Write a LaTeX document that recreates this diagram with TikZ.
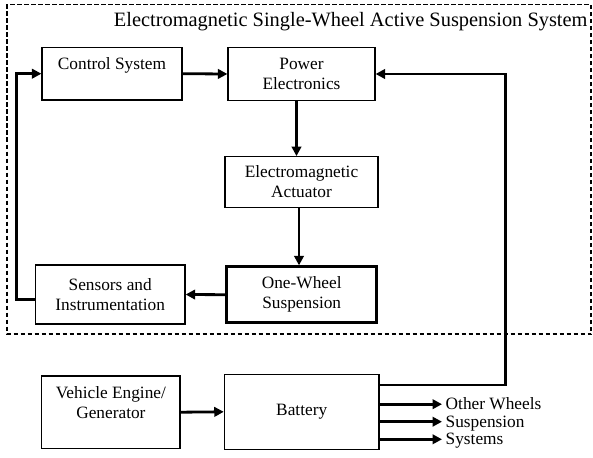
\documentclass[tikz,border=0pt]{standalone}
\usepackage{fontspec}
\setmainfont{Liberation Serif}
\usetikzlibrary{arrows.meta}

\tikzset{
  blk/.style={draw, line width=1.2pt, inner sep=0pt, align=center,
    font=\fontsize{17.3}{20}\selectfont},
  thickblk/.style={blk, line width=2.7pt},
  conn/.style={line width=2.8pt, -{Triangle[length=9.5pt,width=9.5pt]}},
  frame/.style={draw, line width=1.8pt, dash pattern=on 4.5pt off 2.5pt},
}

\begin{document}
\begin{tikzpicture}[x=1pt,y=-1pt]
\useasboundingbox (0,0) rectangle (593,457);

% dashed enclosure of the single-wheel suspension
\draw[frame] (7.3,4.5) rectangle (591.3,334.3);
\node[font=\fontsize{20.4}{24}\selectfont] (title) at (350.7,21.5)
  {Electromagnetic Single-Wheel Active Suspension System};

% blocks
\node[blk, minimum width=140pt, minimum height=52.7pt] (ctrl) at (112,73.7)
  {Control System\\\mbox{}};
\node[blk, minimum width=147pt, minimum height=53.4pt] (power) at (301.5,74)
  {Power\\Electronics};
\node[blk, minimum width=153pt, minimum height=50.6pt] (act) at (301.5,182)
  {Electromagnetic\\Actuator};
\node[blk, minimum width=149.7pt, minimum height=59pt] (sens) at (110.2,294.5)
  {Sensors and\\Instrumentation};
\node[thickblk, minimum width=150pt, minimum height=56pt] (wheel) at (301.7,294.7)
  {One-Wheel\\Suspension};
\node[blk, minimum width=138.3pt, minimum height=72.3pt] (eng) at (110.9,412.2)
  {Vehicle Engine/\\Generator\\\mbox{}};
\node[blk, minimum width=154.7pt, minimum height=75pt] (batt) at (301.7,411.8)
  {Battery};

% routing points for the feedback and supply lines
\coordinate (lft) at (16.7,200);
\coordinate (rgt) at (505.7,200);
\coordinate (o1) at (442,404.2);
\coordinate (o2) at (442,421.7);
\coordinate (o3) at (442,439.3);

\node[anchor=west, align=left, inner sep=0pt,
  font=\fontsize{17.3}{17.6}\selectfont] (others) at (445.5,423)
  {Other Wheels\\Suspension\\Systems};

% connectors
\draw[conn] (ctrl.east) -- (power.west);
\draw[conn] ([xshift=-5pt]power.south) -- ([xshift=-5pt]power.south |- act.north);
\draw[conn] ([xshift=-2.5pt]act.south) -- ([xshift=-2.5pt]act.south |- wheel.north);
\draw[conn] (wheel.west) -- (sens.east);
\draw[conn] ([yshift=-4.8pt]sens.west) -| (lft) |- (ctrl.west);
\draw[conn] ([yshift=26.8pt]batt.east) -| (rgt) |- (power.east);
\draw[conn] (eng.east) -- (batt.west);
\draw[conn] (batt.east |- o1) -- (o1);
\draw[conn] (batt.east |- o2) -- (o2);
\draw[conn] (batt.east |- o3) -- (o3);
\end{tikzpicture}
\end{document}
